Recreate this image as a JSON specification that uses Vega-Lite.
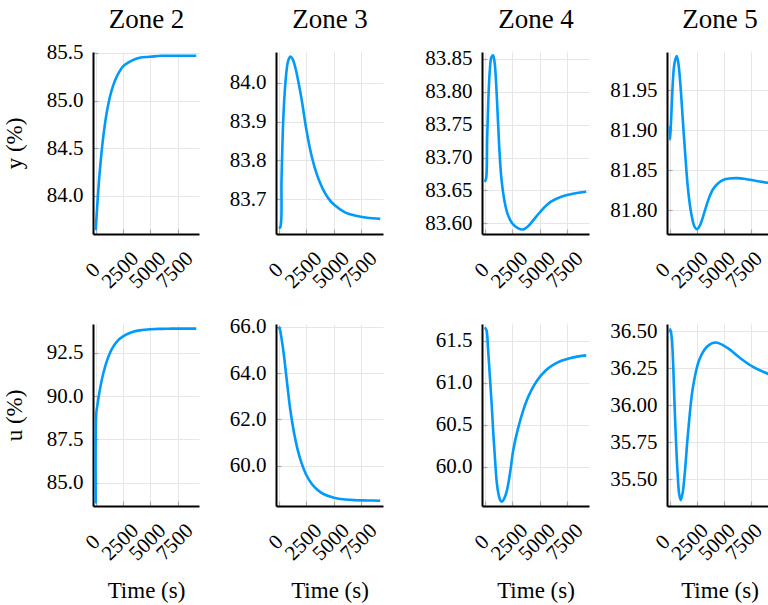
{
  "$schema": "https://vega.github.io/schema/vega-lite/v6.json",
  "padding": {"left": 3, "top": 5, "right": 0, "bottom": 0},
  "background": "white",
  "datasets": {
    "z2y": [{"t":0,"v":83.64},{"t":100,"v":83.83},{"t":200,"v":84.0},{"t":300,"v":84.16},{"t":500,"v":84.42},{"t":700,"v":84.63},{"t":1000,"v":84.87},{"t":1300,"v":85.04},{"t":1600,"v":85.16},{"t":2000,"v":85.27},{"t":2500,"v":85.36},{"t":3000,"v":85.4},{"t":3500,"v":85.43},{"t":4000,"v":85.45},{"t":5000,"v":85.46},{"t":6000,"v":85.47},{"t":7000,"v":85.47},{"t":8000,"v":85.47},{"t":9200,"v":85.47}],
    "z3y": [{"t":0,"v":83.625},{"t":140,"v":83.628},{"t":250,"v":83.75},{"t":400,"v":83.9},{"t":550,"v":83.98},{"t":700,"v":84.03},{"t":850,"v":84.057},{"t":1050,"v":84.068},{"t":1250,"v":84.062},{"t":1500,"v":84.04},{"t":1800,"v":84.0},{"t":2100,"v":83.953},{"t":2500,"v":83.88},{"t":3000,"v":83.809},{"t":3500,"v":83.76},{"t":4000,"v":83.726},{"t":4500,"v":83.702},{"t":5000,"v":83.686},{"t":6000,"v":83.666},{"t":7000,"v":83.657},{"t":8000,"v":83.652},{"t":9200,"v":83.649}],
    "z4y": [{"t":0,"v":83.663},{"t":120,"v":83.668},{"t":220,"v":83.73},{"t":330,"v":83.79},{"t":450,"v":83.83},{"t":600,"v":83.852},{"t":750,"v":83.855},{"t":900,"v":83.843},{"t":1100,"v":83.79},{"t":1300,"v":83.72},{"t":1500,"v":83.67},{"t":1800,"v":83.633},{"t":2100,"v":83.613},{"t":2500,"v":83.6},{"t":3000,"v":83.593},{"t":3500,"v":83.591},{"t":4000,"v":83.597},{"t":4500,"v":83.607},{"t":5000,"v":83.617},{"t":5500,"v":83.626},{"t":6000,"v":83.633},{"t":7000,"v":83.641},{"t":8000,"v":83.645},{"t":9200,"v":83.648}],
    "z5y": [{"t":0,"v":81.905},{"t":30,"v":81.888},{"t":120,"v":81.91},{"t":250,"v":81.95},{"t":400,"v":81.98},{"t":550,"v":81.99},{"t":650,"v":81.993},{"t":800,"v":81.984},{"t":1000,"v":81.955},{"t":1200,"v":81.915},{"t":1400,"v":81.876},{"t":1700,"v":81.825},{"t":2000,"v":81.795},{"t":2300,"v":81.779},{"t":2550,"v":81.776},{"t":2800,"v":81.781},{"t":3200,"v":81.797},{"t":3600,"v":81.814},{"t":4000,"v":81.826},{"t":4500,"v":81.834},{"t":5000,"v":81.838},{"t":5500,"v":81.8395},{"t":6200,"v":81.84},{"t":7000,"v":81.839},{"t":8000,"v":81.8365},{"t":9200,"v":81.834}],
    "z2u": [{"t":0,"v":83.8},{"t":50,"v":89.0},{"t":150,"v":89.47},{"t":300,"v":90.08},{"t":500,"v":90.77},{"t":700,"v":91.34},{"t":1000,"v":92.0},{"t":1300,"v":92.49},{"t":1600,"v":92.86},{"t":2000,"v":93.2},{"t":2500,"v":93.45},{"t":3000,"v":93.62},{"t":3500,"v":93.73},{"t":4000,"v":93.8},{"t":5000,"v":93.87},{"t":6000,"v":93.89},{"t":7000,"v":93.9},{"t":8000,"v":93.9},{"t":9200,"v":93.9}],
    "z3u": [{"t":0,"v":66.0},{"t":100,"v":65.9},{"t":250,"v":65.5},{"t":450,"v":64.84},{"t":700,"v":63.8},{"t":1050,"v":62.4},{"t":1400,"v":61.37},{"t":1700,"v":60.71},{"t":2000,"v":60.2},{"t":2500,"v":59.59},{"t":3000,"v":59.2},{"t":3500,"v":58.95},{"t":4000,"v":58.78},{"t":5000,"v":58.61},{"t":6000,"v":58.53},{"t":7000,"v":58.5},{"t":8000,"v":58.49},{"t":9200,"v":58.48}],
    "z4u": [{"t":0,"v":61.66},{"t":150,"v":61.63},{"t":300,"v":61.4},{"t":450,"v":61.1},{"t":600,"v":60.8},{"t":770,"v":60.41},{"t":900,"v":60.15},{"t":1075,"v":59.83},{"t":1250,"v":59.67},{"t":1400,"v":59.6},{"t":1550,"v":59.58},{"t":1750,"v":59.615},{"t":2000,"v":59.71},{"t":2300,"v":59.93},{"t":2590,"v":60.2},{"t":3000,"v":60.446},{"t":3500,"v":60.676},{"t":4000,"v":60.849},{"t":4700,"v":61.018},{"t":5500,"v":61.142},{"t":6200,"v":61.212},{"t":7000,"v":61.264},{"t":7700,"v":61.293},{"t":8500,"v":61.314},{"t":9200,"v":61.326}],
    "z5u": [{"t":0,"v":36.52},{"t":100,"v":36.5},{"t":200,"v":36.45},{"t":330,"v":36.26},{"t":490,"v":35.92},{"t":730,"v":35.54},{"t":880,"v":35.4},{"t":1030,"v":35.36},{"t":1200,"v":35.41},{"t":1390,"v":35.54},{"t":1690,"v":35.81},{"t":2140,"v":36.12},{"t":2740,"v":36.31},{"t":3490,"v":36.4},{"t":4250,"v":36.425},{"t":5300,"v":36.39},{"t":6500,"v":36.32},{"t":7700,"v":36.26},{"t":9200,"v":36.21}]
  },
  "columns": 4,
  "align": "each",
  "spacing": {"row": 23, "column": 10},
  "concat": [
    {"width": 106, "height": 182, "data": {"name": "z2y"},
     "layer": [
       {"mark": {"type": "line", "color": "#009AFA", "strokeWidth": 2.6, "interpolate": "catmull-rom"},
        "encoding": {
          "x": {"field": "t", "type": "quantitative", "scale": {"domain": [-250, 9450], "nice": false, "zero": false}, "axis": {"values": [0, 2500, 5000, 7500], "format": "d", "title": null}},
          "y": {"field": "v", "type": "quantitative", "scale": {"domain": [83.6, 85.51], "nice": false, "zero": false}, "axis": {"values": [84.0, 84.5, 85.0, 85.5], "format": ".1f", "title": "y (%)", "minExtent": 47, "maxExtent": 47, "titlePadding": 25}}
        }},
       {"mark": {"type": "rule", "opacity": 0},
        "encoding": {"x": {"field": "t", "type": "quantitative", "axis": {"orient": "top", "title": "Zone 2", "labels": false, "domain": false, "grid": false, "ticks": false, "titleFontSize": 27, "titlePadding": 25, "titleBaseline": "alphabetic"}}}}
     ],
     "resolve": {"axis": {"x": "independent"}}},
    {"width": 107, "height": 182, "data": {"name": "z3y"},
     "layer": [
       {"mark": {"type": "line", "color": "#009AFA", "strokeWidth": 2.6, "interpolate": "catmull-rom"},
        "encoding": {
          "x": {"field": "t", "type": "quantitative", "scale": {"domain": [-250, 9450], "nice": false, "zero": false}, "axis": {"values": [0, 2500, 5000, 7500], "format": "d", "title": null}},
          "y": {"field": "v", "type": "quantitative", "scale": {"domain": [83.61, 84.08], "nice": false, "zero": false}, "axis": {"values": [83.7, 83.8, 83.9, 84.0], "format": ".1f", "title": null, "minExtent": 64, "maxExtent": 64}}
        }},
       {"mark": {"type": "rule", "opacity": 0},
        "encoding": {"x": {"field": "t", "type": "quantitative", "axis": {"orient": "top", "title": "Zone 3", "labels": false, "domain": false, "grid": false, "ticks": false, "titleFontSize": 27, "titlePadding": 25, "titleBaseline": "alphabetic"}}}}
     ],
     "resolve": {"axis": {"x": "independent"}}},
    {"width": 107, "height": 182, "data": {"name": "z4y"},
     "layer": [
       {"mark": {"type": "line", "color": "#009AFA", "strokeWidth": 2.6, "interpolate": "catmull-rom"},
        "encoding": {
          "x": {"field": "t", "type": "quantitative", "scale": {"domain": [-250, 9450], "nice": false, "zero": false}, "axis": {"values": [0, 2500, 5000, 7500], "format": "d", "title": null}},
          "y": {"field": "v", "type": "quantitative", "scale": {"domain": [83.584, 83.86], "nice": false, "zero": false}, "axis": {"values": [83.6, 83.65, 83.7, 83.75, 83.8, 83.85], "format": ".2f", "title": null, "minExtent": 86, "maxExtent": 86}}
        }},
       {"mark": {"type": "rule", "opacity": 0},
        "encoding": {"x": {"field": "t", "type": "quantitative", "axis": {"orient": "top", "title": "Zone 4", "labels": false, "domain": false, "grid": false, "ticks": false, "titleFontSize": 27, "titlePadding": 25, "titleBaseline": "alphabetic"}}}}
     ],
     "resolve": {"axis": {"x": "independent"}}},
    {"width": 105, "height": 182, "data": {"name": "z5y"},
     "layer": [
       {"mark": {"type": "line", "color": "#009AFA", "strokeWidth": 2.6, "interpolate": "catmull-rom"},
        "encoding": {
          "x": {"field": "t", "type": "quantitative", "scale": {"domain": [-250, 9450], "nice": false, "zero": false}, "axis": {"values": [0, 2500, 5000, 7500], "format": "d", "title": null, "labelOffset": -7}},
          "y": {"field": "v", "type": "quantitative", "scale": {"domain": [81.77, 81.998], "nice": false, "zero": false}, "axis": {"values": [81.8, 81.85, 81.9, 81.95], "format": ".2f", "title": null, "minExtent": 65, "maxExtent": 65}}
        }},
       {"mark": {"type": "rule", "opacity": 0},
        "encoding": {"x": {"field": "t", "type": "quantitative", "axis": {"orient": "top", "title": "Zone 5", "labels": false, "domain": false, "grid": false, "ticks": false, "titleFontSize": 27, "titlePadding": 25, "titleBaseline": "alphabetic"}}}}
     ],
     "resolve": {"axis": {"x": "independent"}}},
    {"width": 106, "height": 182, "data": {"name": "z2u"},
     "mark": {"type": "line", "color": "#009AFA", "strokeWidth": 2.6, "interpolate": "catmull-rom"},
     "encoding": {
       "x": {"field": "t", "type": "quantitative", "scale": {"domain": [-250, 9450], "nice": false, "zero": false}, "axis": {"values": [0, 2500, 5000, 7500], "format": "d", "title": "Time (s)"}},
       "y": {"field": "v", "type": "quantitative", "scale": {"domain": [83.65, 94.17], "nice": false, "zero": false}, "axis": {"values": [85.0, 87.5, 90.0, 92.5], "format": ".1f", "title": "u (%)", "minExtent": 47, "maxExtent": 47, "titlePadding": 25}}
     }},
    {"width": 107, "height": 182, "data": {"name": "z3u"},
     "mark": {"type": "line", "color": "#009AFA", "strokeWidth": 2.6, "interpolate": "catmull-rom"},
     "encoding": {
       "x": {"field": "t", "type": "quantitative", "scale": {"domain": [-250, 9450], "nice": false, "zero": false}, "axis": {"values": [0, 2500, 5000, 7500], "format": "d", "title": "Time (s)"}},
       "y": {"field": "v", "type": "quantitative", "scale": {"domain": [58.25, 66.12], "nice": false, "zero": false}, "axis": {"values": [60.0, 62.0, 64.0, 66.0], "format": ".1f", "title": null, "minExtent": 64, "maxExtent": 64}}
     }},
    {"width": 107, "height": 182, "data": {"name": "z4u"},
     "mark": {"type": "line", "color": "#009AFA", "strokeWidth": 2.6, "interpolate": "catmull-rom"},
     "encoding": {
       "x": {"field": "t", "type": "quantitative", "scale": {"domain": [-250, 9450], "nice": false, "zero": false}, "axis": {"values": [0, 2500, 5000, 7500], "format": "d", "title": "Time (s)"}},
       "y": {"field": "v", "type": "quantitative", "scale": {"domain": [59.53, 61.7], "nice": false, "zero": false}, "axis": {"values": [60.0, 60.5, 61.0, 61.5], "format": ".1f", "title": null, "minExtent": 86, "maxExtent": 86}}
     }},
    {"width": 105, "height": 182, "data": {"name": "z5u"},
     "mark": {"type": "line", "color": "#009AFA", "strokeWidth": 2.6, "interpolate": "catmull-rom"},
     "encoding": {
       "x": {"field": "t", "type": "quantitative", "scale": {"domain": [-250, 9450], "nice": false, "zero": false}, "axis": {"values": [0, 2500, 5000, 7500], "format": "d", "title": "Time (s)", "labelOffset": -7}},
       "y": {"field": "v", "type": "quantitative", "scale": {"domain": [35.32, 36.55], "nice": false, "zero": false}, "axis": {"values": [35.5, 35.75, 36.0, 36.25, 36.5], "format": ".2f", "title": null, "minExtent": 65, "maxExtent": 65}}
     }}
  ],
  "config": {
    "font": "Liberation Serif",
    "view": {"stroke": null},
    "axis": {
      "domainColor": "black", "domainWidth": 2,
      "gridColor": "#e6e6e6", "gridWidth": 1,
      "ticks": true, "tickSize": -5, "tickColor": "#aaaaaa", "tickWidth": 1.2,
      "labelFont": "Liberation Serif", "labelFontSize": 21, "labelColor": "black",
      "labelOverlap": false, "labelFlush": false, "labelPadding": 15,
      "titleFont": "Liberation Serif", "titleFontSize": 23, "titleFontWeight": "normal", "titleColor": "black"
    },
    "axisX": {"labelAngle": -45, "labelAlign": "center", "labelBaseline": "middle", "labelPadding": 41, "labelOffset": -3, "titlePadding": 16},
    "axisY": {"titleBaseline": "alphabetic"}
  }
}
